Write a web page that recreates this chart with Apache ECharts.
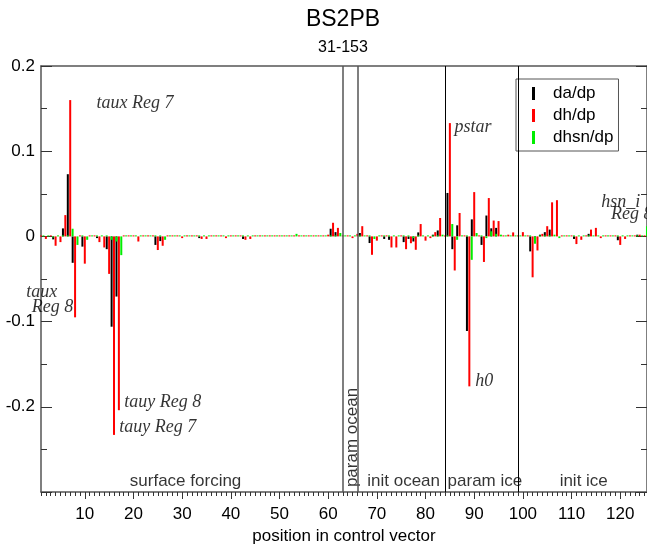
<!DOCTYPE html>
<html><head><meta charset="utf-8">
<script src="https://cdn.jsdelivr.net/npm/echarts@6/dist/echarts.min.js"></script>
<style>html,body{margin:0;padding:0;background:#fff}#c{width:647px;height:546px}</style>
</head><body><div id="c"></div>
<script>
// positions 1..125
var positions = [];
for (var p = 1; p <= 125; p++) positions.push(p);

var daDp = [
 0, 0, 0, -0.0035, 0, 0.0094, 0.073, -0.031, 0, -0.012,
 0, 0, -0.002, 0, -0.015, -0.106, -0.0706, 0, 0, 0,
 0, 0, 0, 0, -0.010, -0.0055, 0, 0, 0, 0,
 0, 0, 0, -0.002, 0, 0, 0, 0, 0, 0,
 0, 0, -0.003, 0, 0, 0, 0, 0, 0, 0,
 0, 0, 0, 0, 0, 0, 0, 0, 0, 0,
 0.009, 0.005, 0, 0, 0, 0, 0.004, 0, -0.0078, 0,
 0, -0.003, -0.004, 0, 0, -0.0067, -0.003, -0.006, 0.0047, 0,
 0, 0.002, 0.007, 0, 0.051, -0.015, 0.013, 0, -0.111, 0.020,
 0, -0.010, 0.0245, 0.0095, 0.010, 0, 0, 0, 0, 0,
 0, -0.0176, -0.004, 0.002, 0.005, 0.008, 0, 0, 0, 0,
 -0.003, 0, 0, 0.003, 0, 0, 0, 0, 0, -0.0045,
 0, 0, 0, 0.002, 0
];
var dhDp = [
 0, -0.003, 0, -0.011, -0.0067, 0.025, 0.160, -0.095, 0, -0.032,
 0, 0, -0.0067, -0.013, -0.044, -0.233, -0.204, 0, 0, 0,
 -0.006, 0, 0, 0, -0.016, -0.011, 0, 0, 0, -0.002,
 0, 0, 0, -0.003, -0.003, 0, 0, 0, -0.002, 0,
 0, 0, -0.004, -0.003, 0, 0, 0, 0, 0, 0,
 0, 0, 0, 0, 0, 0, 0.001, 0, 0, 0.002,
 0.016, 0.010, 0, 0, -0.002, 0.003, 0.012, 0, -0.0216, -0.005,
 0, 0, -0.013, -0.013, 0, -0.015, -0.008, -0.0157, 0.0145, -0.005,
 -0.002, 0.005, 0.0216, 0, 0.133, -0.040, 0.0275, 0, -0.176, 0.052,
 0, -0.030, 0.045, 0.0186, 0.018, 0, 0.002, 0.0047, 0, 0.005,
 0, -0.048, -0.0165, 0.003, 0.012, 0.040, 0.0425, 0, 0, 0,
 -0.009, -0.004, 0, 0.008, 0.010, -0.002, 0, 0, 0, -0.010,
 -0.003, 0, 0, 0.002, 0
];
var dhsnDp = [
 0, 0, -0.001, 0, 0, 0, 0.009, -0.010, 0, -0.004,
 0, 0, 0, 0, -0.004, -0.006, -0.022, 0, 0, 0,
 0, 0, 0, 0, 0, -0.004, 0, 0, 0, 0,
 0, 0, 0, 0, 0, 0, 0, 0, 0, 0,
 0, 0, 0, 0, 0, 0, 0, 0, 0, 0,
 0, 0, 0.003, 0, 0, 0, 0, 0, 0, 0,
 0, 0.004, 0, 0, 0, 0, 0, 0, -0.003, 0,
 0, 0, 0, 0, 0, 0, -0.002, 0, 0, 0,
 0, 0, 0.002, 0, 0.0145, -0.004, 0, 0, -0.0275, 0.004,
 0, -0.002, 0.006, 0.003, 0.002, 0, 0, 0, 0, 0,
 0, -0.0086, 0, 0, 0, 0.002, -0.002, 0, 0, 0,
 0, 0, 0, 0, 0, 0, 0, 0, 0, 0,
 0, 0, 0, 0, 0.012
];

var seriesNames = ['da/dp', 'dh/dp', 'dhsn/dp'];
var xMajorTicks = [10, 20, 30, 40, 50, 60, 70, 80, 90, 100, 110, 120];
var boundaries = [63.5, 66.5, 84.5, 99.5];

var regionText = ['surface forcing', 'param ocean', 'init ocean', 'param ice', 'init ice'];
var regionX = [30.7, 65.0, 75.5, 92.2, 112.5];
var regionY = [-0.288, -0.236, -0.288, -0.288, -0.288];

var annoText = ['taux Reg 7', 'taux', 'Reg 8', 'tauy Reg 8', 'tauy Reg 7', 'pstar', 'h0', 'hsn_i', 'Reg 8'];
var annoX = [12.4, 4.35, 7.64, 18.1, 17.1, 85.95, 90.2, 116.1, 118.1];
var annoY = [0.1565, -0.0655, -0.0827, -0.1945, -0.2244, 0.1279, -0.170, 0.0404, 0.0259];
var annoAlign = ['left', 'right', 'right', 'left', 'left', 'left', 'left', 'left', 'left'];

var SANS = '"Liberation Sans", Arial, Helvetica, sans-serif';
var SERIF = '"Liberation Serif", "Times New Roman", serif';

function pairs(vals) { return positions.map(function (p, i) { return [p, vals[i]]; }); }

var chart = echarts.init(document.getElementById('c'), null, { renderer: 'canvas' });

var xBase = { type: 'value', min: 1, max: 125.5, splitLine: { show: false } };

var option = {
  animation: false,
  backgroundColor: '#fff',
  title: {
    text: 'BS2PB', subtext: '31-153', left: 343, textAlign: 'center', top: 8, padding: 0, itemGap: 9,
    textStyle: { fontFamily: SANS, fontSize: 23, fontWeight: 'normal', color: '#000' },
    subtextStyle: { fontFamily: SANS, fontSize: 16, color: '#000' }
  },
  legend: {
    orient: 'vertical', left: 516, top: 79, padding: [6, 5, 5, 16], itemGap: 5,
    itemWidth: 3, itemHeight: 13, icon: 'rect',
    borderColor: '#555', borderWidth: 1, backgroundColor: '#fff',
    textStyle: { fontFamily: SANS, fontSize: 17, lineHeight: 17, color: '#000', padding: [0, 0, 0, 13] },
    data: seriesNames
  },
  grid: { left: 41, top: 66, right: 0, bottom: 54, containLabel: false, outerBoundsMode: 'none' },
  xAxis: [
    Object.assign({}, xBase, {
      position: 'bottom', interval: 1,
      axisLine: { show: true, onZero: false, lineStyle: { color: '#555', width: 1.5 } },
      axisTick: { show: true, inside: false, length: 4, lineStyle: { color: '#333', width: 1 } },
      axisLabel: { show: true, customValues: xMajorTicks, fontFamily: SANS, fontSize: 17, color: '#000', margin: 14 },
      name: 'position in control vector', nameLocation: 'middle', nameGap: 35,
      nameTextStyle: { fontFamily: SANS, fontSize: 17, color: '#000' }
    }),
    Object.assign({}, xBase, {
      position: 'bottom',
      axisLine: { show: false, onZero: false },
      axisTick: { show: true, inside: false, length: 7, customValues: xMajorTicks, lineStyle: { color: '#333', width: 1 } },
      axisLabel: { show: false }
    }),
    Object.assign({}, xBase, {
      position: 'top',
      axisLine: { show: true, onZero: false, lineStyle: { color: '#555', width: 1.5 } },
      axisTick: { show: false }, axisLabel: { show: false }
    })
  ],
  yAxis: [
    {
      type: 'value', min: -0.3, max: 0.2, interval: 0.1, position: 'left',
      axisLine: { show: true, onZero: false, lineStyle: { color: '#555', width: 1.5 } },
      axisTick: { show: true, inside: true, length: 11, lineStyle: { color: '#333' } },
      minorTick: { show: true, splitNumber: 2, length: 6, lineStyle: { color: '#333' } },
      splitLine: { show: false }, minorSplitLine: { show: false },
      axisLabel: {
        fontFamily: SANS, fontSize: 17, color: '#000', margin: 6,
        formatter: function (v) { if (Math.abs(v + 0.3) < 1e-9) return ''; return String(Math.round(v * 10) / 10); }
      }
    },
    {
      type: 'value', min: -0.3, max: 0.2, interval: 0.1, position: 'right',
      axisLine: { show: true, onZero: false, lineStyle: { color: '#555', width: 1.5 } },
      axisTick: { show: true, inside: true, length: 11, lineStyle: { color: '#333' } },
      minorTick: { show: true, splitNumber: 2, length: 6, lineStyle: { color: '#333' } },
      splitLine: { show: false }, axisLabel: { show: false }
    }
  ],
  series: [
    {
      name: seriesNames[0], type: 'bar', xAxisIndex: 0, yAxisIndex: 0, data: pairs(daDp),
      barWidth: 2, barGap: '20%', clip: false, itemStyle: { color: '#000000' },
      markLine: {
        silent: true, symbol: 'none', label: { show: false }, animation: false,
        data: boundaries.map(function (b, i) {
          return { xAxis: b, lineStyle: { type: 'solid', color: i < 2 ? '#555' : '#000', width: i < 2 ? 1.5 : 1 } };
        })
      }
    },
    {
      name: seriesNames[1], type: 'bar', xAxisIndex: 0, yAxisIndex: 0, data: pairs(dhDp),
      barWidth: 2, barGap: '20%', barMinHeight: 1, clip: false, itemStyle: { color: '#ff0000' }
    },
    {
      name: seriesNames[2], type: 'bar', xAxisIndex: 0, yAxisIndex: 0, data: pairs(dhsnDp),
      barWidth: 2, barGap: '20%', barMinHeight: 1, clip: false, itemStyle: { color: '#00ee00' }
    },
    {
      name: 'regions', type: 'scatter', symbolSize: 0, silent: true, clip: false, xAxisIndex: 0, yAxisIndex: 0,
      data: regionText.map(function (t, i) {
        return {
          name: t, value: [regionX[i], regionY[i]],
          label: { show: true, formatter: '{b}', position: [0, 0], align: 'center', verticalAlign: 'middle',
                   rotate: t === 'param ocean' ? 90 : 0,
                   fontFamily: SANS, fontSize: 17, color: '#000' }
        };
      })
    },
    {
      name: 'annotations', type: 'scatter', symbolSize: 0, silent: true, clip: false, xAxisIndex: 0, yAxisIndex: 0,
      data: annoText.map(function (t, i) {
        return {
          name: t, value: [annoX[i], annoY[i]],
          label: { show: true, formatter: '{b}', position: [0, 0], align: annoAlign[i], verticalAlign: 'middle',
                   fontFamily: SERIF, fontStyle: 'italic', fontSize: 18, color: '#000' }
        };
      })
    }
  ]
};
chart.setOption(option);
</script>
</body></html>
